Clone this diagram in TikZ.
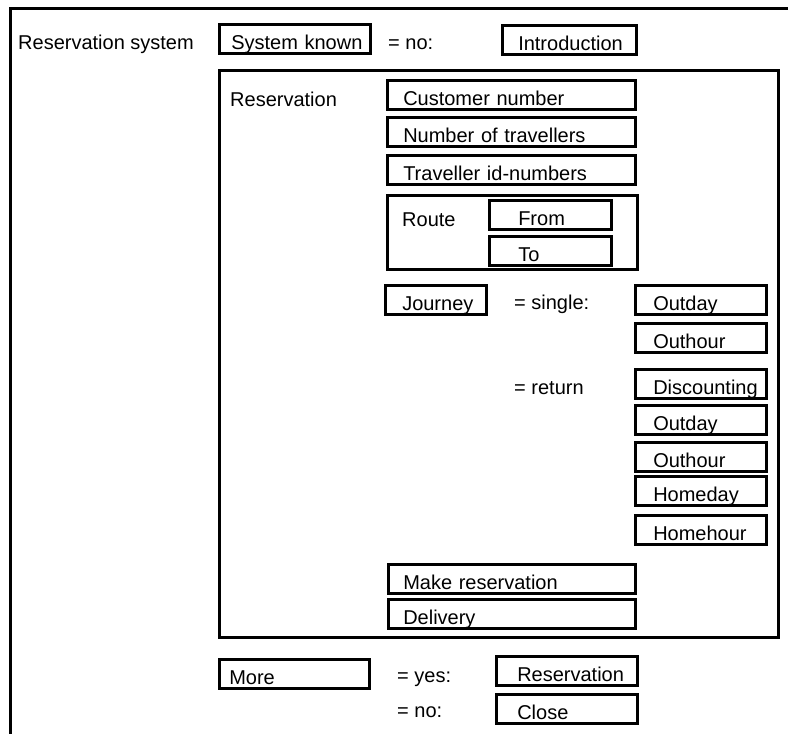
\documentclass[tikz,border=0pt]{standalone}
\usepackage{fontspec}
\setmainfont{Liberation Sans}
\begin{document}
\begin{tikzpicture}[
    x=1pt, y=-1pt,
    font=\fontsize{20}{22}\selectfont,
    field/.style={draw, line width=2.5pt, anchor=north west, inner ysep=0pt, inner xsep=16pt,
                  text height=25pt, text depth=4pt, align=left},
    frame/.style={draw, line width=2.5pt, anchor=north west, inner sep=0pt},
    lbl/.style={anchor=base west, inner sep=0pt}
]
    \useasboundingbox (0,0) rectangle (788,734);

    % Outer frame (top and left edges only)
    \draw[line width=3pt] (10.5,734) |- (788,8.5);

    % Top level
    \node[lbl] (sysname) at (18,49) {Reservation system};
    \node[field, inner xsep=12pt, text width=127pt] (known) at (218,23) {\mbox{System known}};
    \node[lbl] (knownno) at (388,49) {= no:};
    \node[field, text width=102pt] (intro) at (501,24) {Introduction};

    % Reservation block
    \node[frame, minimum width=559pt, minimum height=567pt] (resframe) at (218,69) {};
    \node[lbl] (resname) at (230,106) {Reservation};
    \node[field, text width=216pt] (custno) at (386,79) {Customer number};
    \node[field, text width=216pt] (numtrav) at (386,116) {Number of travellers};
    \node[field, text width=216pt] (travid) at (386,154) {Traveller id-numbers};

    % Route
    \node[frame, minimum width=250pt, minimum height=74pt] (routeframe) at (386,194) {};
    \node[lbl] (routename) at (402,226) {Route};
    \node[field, inner xsep=29pt, text width=64pt] (from) at (488,199) {From};
    \node[field, inner xsep=29pt, text width=64pt] (to) at (488,235) {To};

    % Journey
    \node[field, inner xsep=17pt, text width=67pt] (journey) at (384,284) {\mbox{Journey}};
    \node[lbl] (single) at (514,309) {= single:};
    \node[field, inner xsep=18pt, text width=95pt] (outday) at (634,284) {Outday};
    \node[field, inner xsep=18pt, text width=95pt] (outhour) at (634,322) {Outhour};
    \node[lbl] (return) at (514,394) {= return};
    \node[field, inner xsep=18pt, text width=95pt] (discount) at (634,368) {\mbox{Discounting}};
    \node[field, inner xsep=18pt, text width=95pt] (outdayret) at (634,404) {Outday};
    \node[field, inner xsep=18pt, text width=95pt] (outhourret) at (634,441) {Outhour};
    \node[field, inner xsep=18pt, text width=95pt] (homeday) at (634,475) {Homeday};
    \node[field, inner xsep=18pt, text width=95pt] (homehour) at (634,514) {Homehour};

    % Closing steps
    \node[field, inner xsep=15pt, text width=217pt] (makeres) at (387,563) {Make reservation};
    \node[field, inner xsep=15pt, text width=217pt] (delivery) at (387,598) {Delivery};

    % More
    \node[field, inner xsep=10pt, text width=130pt] (more) at (218,658) {More};
    \node[lbl] (moreyes) at (397,682) {= yes:};
    \node[field, inner xsep=21pt, text width=99pt] (again) at (495,655) {Reservation};
    \node[lbl] (moreno) at (397,717) {= no:};
    \node[field, inner xsep=21pt, text width=99pt] (close) at (495,693) {Close};

\end{tikzpicture}
\end{document}
